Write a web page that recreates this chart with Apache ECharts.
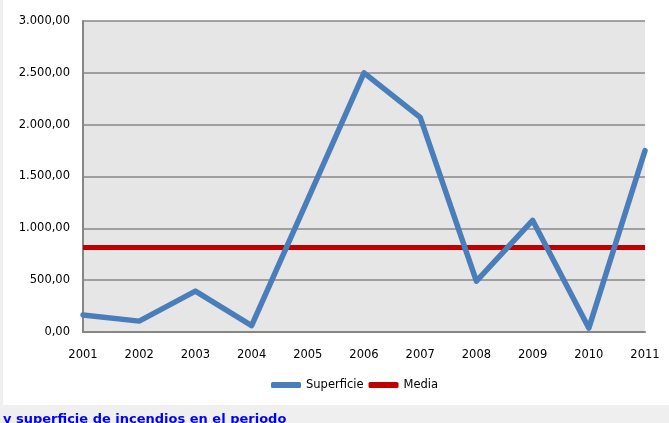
<!DOCTYPE html>
<html>
<head>
<meta charset="utf-8">
<script src="https://cdn.jsdelivr.net/npm/echarts@6/dist/echarts.min.js"></script>
<style>
  html, body { margin: 0; padding: 0; }
  #wrap { position: relative; width: 669px; height: 423px; background: #efefef; overflow: hidden; }
  #paper { position: absolute; left: 3px; top: 0; width: 666px; height: 405px; background: #ffffff; }
  #chart { position: absolute; left: 0; top: 0; width: 669px; height: 423px; }
  #caption { position: absolute; left: 3px; top: 411px; font-family: "DejaVu Sans", sans-serif; font-weight: bold; font-size: 13px; color: #0000ff; white-space: nowrap; line-height: normal; }
</style>
</head>
<body>
<div id="wrap">
  <div id="paper"></div>
  <div id="chart"></div>
  <div id="caption">y superficie de incendios en el periodo</div>
</div>
<script>
const years = ['2001','2002','2003','2004','2005','2006','2007','2008','2009','2010','2011'];
const superficie = [165, 105, 395, 62, 1280, 2500, 2070, 490, 1077, 38, 1750];
const mediaValue = 815;
const media = years.map(() => mediaValue);
const seriesNames = ['Superficie', 'Media'];

function fmt(v) {
  const parts = v.toFixed(2).split('.');
  const intPart = parts[0].replace(/\B(?=(\d{3})+(?!\d))/g, '.');
  return intPart + ',' + parts[1];
}

const chart = echarts.init(document.getElementById('chart'), null, { renderer: 'canvas' });
chart.setOption({
  backgroundColor: 'transparent',
  animation: false,
  textStyle: { fontFamily: 'DejaVu Sans' },
  grid: {
    left: 83, right: 24, top: 21, bottom: 91,
    show: true, backgroundColor: '#e6e6e6', borderWidth: 0
  },
  legend: {
    data: seriesNames,
    left: 266, top: 374,
    icon: 'roundRect',
    itemWidth: 30, itemHeight: 6, itemGap: 5,
    textStyle: { fontFamily: 'DejaVu Sans', fontSize: 11.5, color: '#000' }
  },
  xAxis: {
    type: 'category',
    data: years,
    boundaryGap: false,
    axisLine: { lineStyle: { color: '#868686', width: 2 } },
    axisTick: { show: false },
    axisLabel: { color: '#000', fontSize: 11.5, margin: 17, fontFamily: 'DejaVu Sans' },
    splitLine: { show: false }
  },
  yAxis: {
    type: 'value',
    min: 0, max: 3000, interval: 500,
    axisLine: { show: true, lineStyle: { color: '#868686', width: 2 } },
    axisTick: { show: false },
    axisLabel: { color: '#000', fontSize: 11.5, margin: 13, fontFamily: 'DejaVu Sans', formatter: fmt },
    splitLine: { show: true, lineStyle: { color: '#878787', width: 1.5 } }
  },
  series: [
    {
      name: seriesNames[0], type: 'line', data: superficie,
      symbol: 'none', z: 3,
      lineStyle: { color: '#4a7ebb', width: 5.5, cap: 'round', join: 'round' },
      itemStyle: { color: '#4a7ebb' }
    },
    {
      name: seriesNames[1], type: 'line', data: media,
      symbol: 'none', z: 2,
      lineStyle: { color: '#c00000', width: 5, cap: 'butt' },
      itemStyle: { color: '#c00000' }
    }
  ]
});
</script>
</body>
</html>
